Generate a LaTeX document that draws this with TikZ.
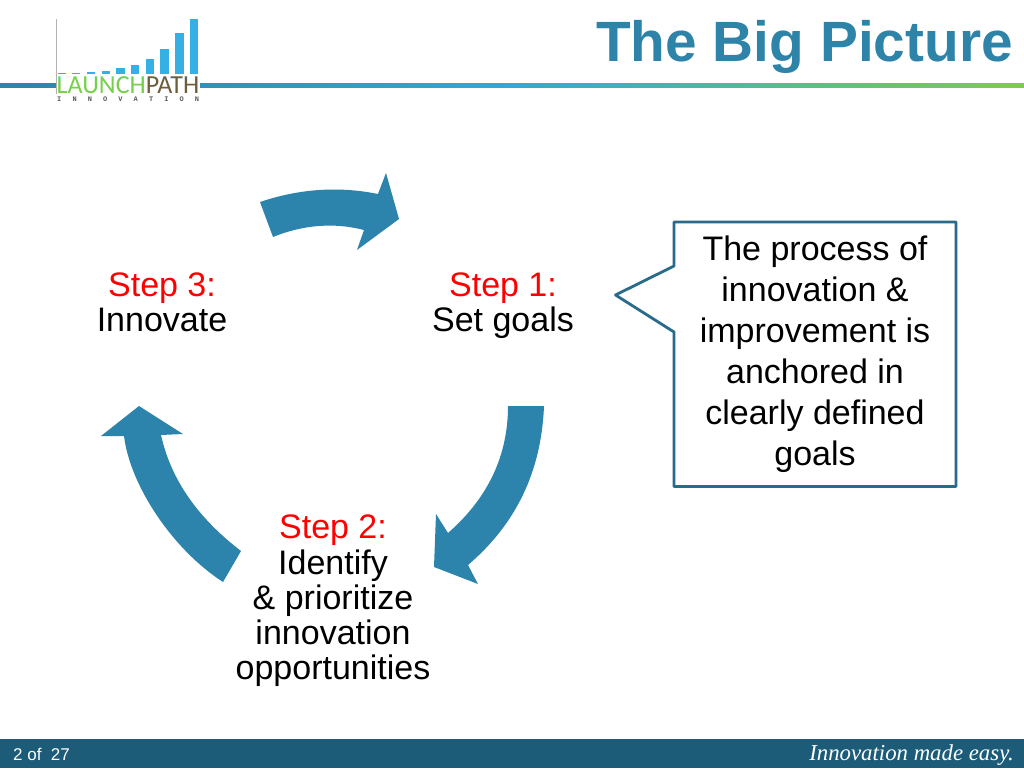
\documentclass[tikz,border=0pt]{standalone}
\usepackage{fontspec}
\setmainfont{Liberation Sans}
\newfontfamily\serifit{Liberation Serif}
\newfontfamily\logofont{Carlito}
\newfontfamily\logomono{Liberation Mono}
\definecolor{arrowblue}{HTML}{2C84AD}
\definecolor{titleblue}{HTML}{2E83A9}
\definecolor{boxblue}{HTML}{2A6A8A}
\definecolor{footblue}{HTML}{1D5C78}
\definecolor{barblue}{HTML}{35B0E4}
\definecolor{logogreen}{HTML}{76D04B}
\definecolor{logobrown}{HTML}{6E5C3A}
\begin{document}
\begin{tikzpicture}[x=1pt, y=-1pt, main/.style = {align=center, font=\fontsize{34}{35.2}\selectfont, inner sep=0pt}, curved/.style = {fill=arrowblue, draw=none}, bar/.style = {fill=barblue, draw=none}]
\useasboundingbox (0,0) rectangle (1024,768);
\fill[white] (0,0) rectangle (1024,768);
\shade[left color=titleblue, right color=logogreen, middle color=barblue!80!titleblue] (0,83) rectangle (1024,87);
\fill[footblue] (0,739) rectangle (1024,768);
\node[anchor=base east, inner sep=0pt, font=\fontsize{56.8}{60}\selectfont\bfseries, text=titleblue] (title) at (1013,61) {The Big Picture};
\node[anchor=base west, inner sep=0pt, font=\fontsize{17}{18}\selectfont, text=white] (page) at (13,760) {2 of\ \ 27};
\node[anchor=base east, inner sep=0pt, font=\fontsize{22.8}{24}\selectfont\serifit\itshape, text=white] (motto) at (1014,760) {Innovation made easy.};
\fill[white] (56,15) rectangle (200,103);
\draw[black!30, line width=0.8pt] (56.5,19) -- (56.5,94);
\foreach \a/\b/\t in {58/66/73, 72/80/72.7, 87/95/72.3, 102/110/70.7, 116/125/68.3, 131/139/65, 146/154/59.3, 160/169/49.3, 175/184/33.3, 190/198/19}
  \fill[bar] (\a,\t) rectangle (\b,73.5);
\node[anchor=base west, inner sep=0pt, font=\fontsize{26}{28}\selectfont\logofont] (logo) at (56.5,93) {\textcolor{logogreen}{LAUNCH}\textcolor{logobrown}{PATH}};
\node[anchor=base west, inner sep=0pt, font=\fontsize{7}{8}\selectfont\logomono\bfseries, text=black!65] (inn) at (57,101) {\hbox to 142pt{I\hfil N\hfil N\hfil O\hfil V\hfil A\hfil T\hfil I\hfil O\hfil N}};
\fill[curved] (260,202) .. controls (299.3,188.7) and (338.7,186) .. (378,194) -- (386,173) -- (399,219) -- (357,250) -- (364,230) .. controls (334.3,222.3) and (303.3,224.7) .. (273,237) -- cycle;
\fill[curved] (544,406) .. controls (541.3,471.7) and (516,524) .. (468,565) -- (478,584) -- (434,567) -- (436,514) -- (448,533) .. controls (488,498) and (508,455.7) .. (508,406) -- cycle;
\fill[curved] (223,582) .. controls (172,549) and (130,485) .. (124,436) -- (101,436) -- (139,406) -- (183,434) -- (161,435) .. controls (171,480) and (198,518) .. (241,551) -- cycle;
\node[main] (s1) at (503,306) {\textcolor{red}{Step 1:}\\Set goals};
\node[main] (s3) at (162,302.5) {\textcolor{red}{Step 3:}\\Innovate};
\node[main] (s2) at (333,601) {\textcolor{red}{Step 2:}\\Identify\\\&\ prioritize\\innovation\\opportunities};
\draw[boxblue, line width=2.8pt, line join=round, fill=white] (674,222) -- (956,222) -- (956,486.5) -- (674,486.5) -- (674,332) -- (615.5,295) -- (674,266) -- cycle;
\node[main, font=\fontsize{34}{41}\selectfont] (note) at (815,354) {The process of\\innovation \&\\improvement is\\anchored in\\clearly defined\\goals};
\end{tikzpicture}
\end{document}
